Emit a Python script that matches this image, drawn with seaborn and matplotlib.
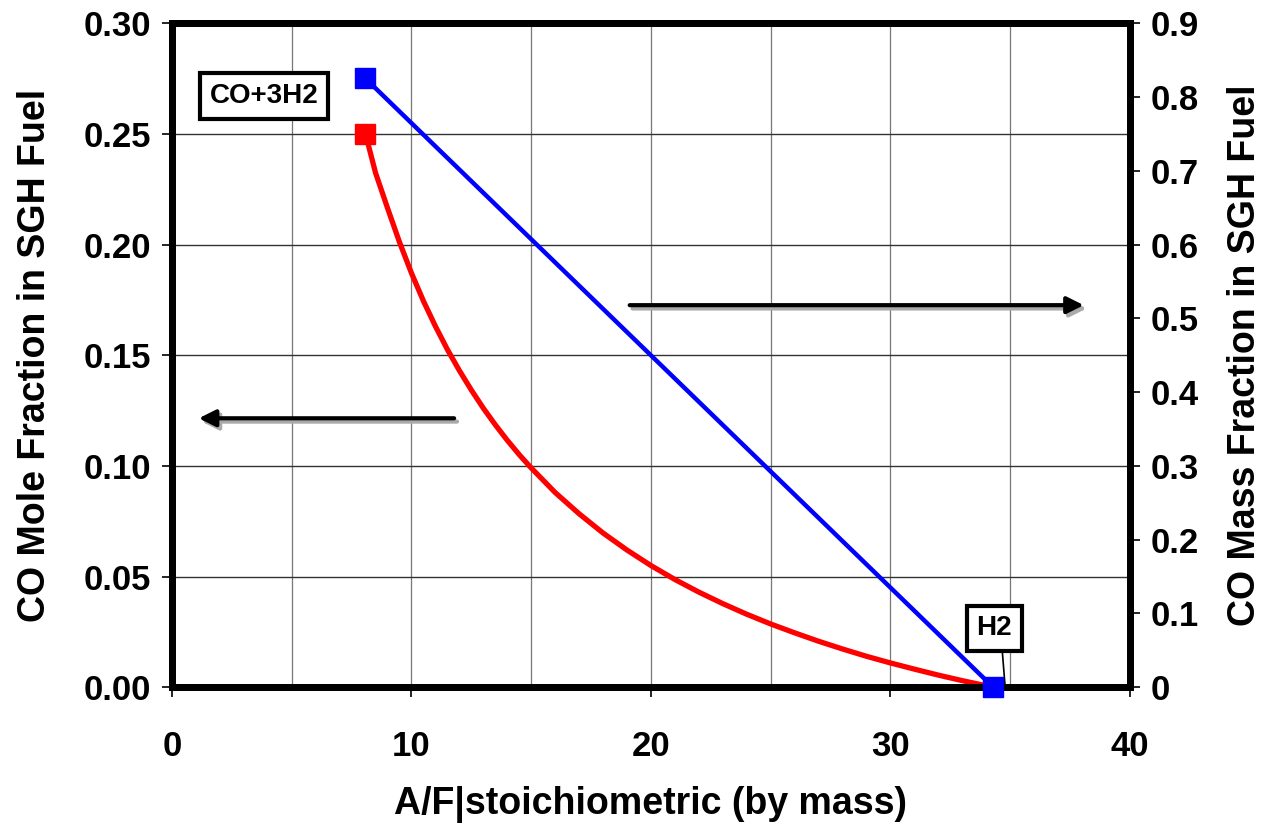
import matplotlib
matplotlib.use("Agg")
import matplotlib.pyplot as plt
import seaborn as sns
import pandas as pd
import numpy as np

# Data
af_mole = [8.08, 8.5, 9, 9.5, 10, 10.5, 11, 11.5, 12, 12.5, 13, 13.5, 14, 14.5, 15, 16, 17,
           18, 19, 20, 21, 22, 23, 24, 25, 26, 27, 28, 29, 30, 31, 32, 33, 34.3]
co_mole = [0.250, 0.2324, 0.2165, 0.2011, 0.1871, 0.1745, 0.1631, 0.1526, 0.1431, 0.1343,
           0.1261, 0.1186, 0.1116, 0.1051, 0.0991, 0.0880, 0.0784, 0.0697, 0.0620, 0.0550,
           0.0487, 0.0430, 0.0378, 0.0330, 0.0286, 0.0246, 0.0208, 0.0173, 0.0140, 0.0110,
           0.0082, 0.0055, 0.0030, 0.0]
af_mass = [8.08, 34.3]
co_mass = [0.825, 0.0]

left_ticks = [0.00, 0.05, 0.10, 0.15, 0.20, 0.25, 0.30]
right_ticks = [0, 0.1, 0.2, 0.3, 0.4, 0.5, 0.6, 0.7, 0.8, 0.9]
x_ticks = [0, 10, 20, 30, 40]

sns.set_style("white")
plt.rcParams['font.family'] = ['Liberation Sans', 'DejaVu Sans']
plt.rcParams['font.weight'] = 'bold'
for k in ['text.color', 'axes.labelcolor', 'xtick.color', 'ytick.color']:
    plt.rcParams[k] = 'black'

fig = plt.figure(figsize=(12.65, 8.27), dpi=100)
ax = fig.add_axes([0.136, 0.169, 0.757, 0.803])
ax2 = ax.twinx()

df_mole = pd.DataFrame({"af": af_mole, "y": co_mole})
df_mass = pd.DataFrame({"af": af_mass, "y": co_mass})

sns.lineplot(data=df_mole, x="af", y="y", ax=ax, color="#ff0000", lw=3.8, zorder=3)
ax.plot(af_mole[0], co_mole[0], marker="s", ms=14, color="#ff0000", ls="none", zorder=4)

sns.lineplot(data=df_mass, x="af", y="y", ax=ax2, color="#0000ff", lw=3.2, zorder=3)
ax2.plot(af_mass, co_mass, marker="s", ms=14, color="#0000ff", ls="none", zorder=4, clip_on=False)

ax.set_xlim(0, 40)
ax.set_ylim(0, 0.30)
ax2.set_ylim(0, 0.9)

ax.set_xticks(x_ticks)
ax.set_xticks(np.arange(0, 41, 5), minor=True)
ax.set_yticks(left_ticks)
ax.set_yticklabels([f"{v:.2f}" for v in left_ticks])
ax2.set_yticks(right_ticks)
ax2.set_yticklabels(["0"] + [f"{v:.1f}" for v in right_ticks[1:]])

ax.grid(True, which="both", axis="x", color="#777777", lw=0.9)
ax.grid(True, which="major", axis="y", color="#333333", lw=1.0)
ax.set_axisbelow(True)

for a in (ax, ax2):
    for s in a.spines.values():
        s.set_linewidth(5)
        s.set_color("black")

ax.tick_params(axis="both", which="major", labelsize=25, direction="out", length=7, width=1.2,
               pad=8, left=True, bottom=True)
ax.tick_params(axis="x", which="minor", length=0)
ax.tick_params(axis="x", pad=24)
ax2.tick_params(axis="y", labelsize=25, direction="out", length=7, width=1.2, right=True, pad=8)
for lab in ax.get_xticklabels() + ax.get_yticklabels() + ax2.get_yticklabels():
    lab.set_fontweight("bold")

ax.set_xlabel("A/F|stoichiometric (by mass)", fontsize=27, fontweight="bold", labelpad=16)
ax.set_ylabel("CO Mole Fraction in SGH Fuel", fontsize=27, fontweight="bold", labelpad=22)
ax2.set_ylabel("CO Mass Fraction in SGH Fuel", fontsize=27, fontweight="bold", labelpad=20)

# Arrows with grey shadow
for (x0, x1, yv) in [(19.0, 38.2, 0.1726), (11.9, 1.0, 0.1215)]:
    ax.annotate("", xy=(x1 + 0.12, yv - 0.0015), xytext=(x0 + 0.12, yv - 0.0015),
                arrowprops=dict(arrowstyle="-|>", color="#aaaaaa", lw=3, mutation_scale=25), zorder=2)
    ax.annotate("", xy=(x1, yv), xytext=(x0, yv),
                arrowprops=dict(arrowstyle="-|>", color="black", lw=3, mutation_scale=25), zorder=2)

box = dict(boxstyle="square,pad=0.35", fc="white", ec="black", lw=3)
ax.text(3.84, 0.267, "CO+3H2", fontsize=20, fontweight="bold", ha="center", va="center", bbox=box, zorder=5)
ax.annotate("H2", xy=(34.8, 0.0), xytext=(34.35, 0.0266), fontsize=20, fontweight="bold",
            ha="center", va="center", bbox=box, zorder=5,
            arrowprops=dict(arrowstyle="-", color="black", lw=1.2, shrinkA=0, shrinkB=0,
                            relpos=(0.7, 0.0)))

fig.savefig("out.png", dpi=100)
